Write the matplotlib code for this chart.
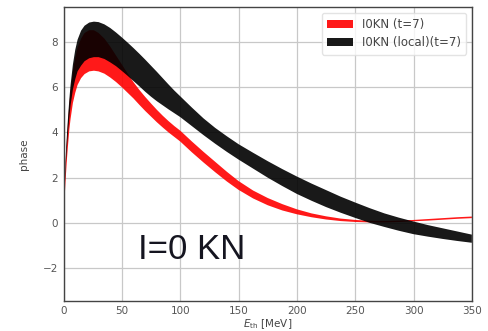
import matplotlib
matplotlib.use("Agg")
import matplotlib.pyplot as plt

# Threshold energy grid [MeV]
energy = [0, 0.5, 1, 2, 3, 4, 5, 6, 8, 10,
          12, 15, 18, 22, 26, 30, 35, 40, 45, 50,
          55, 60, 65, 70, 75, 80, 85, 90, 95, 100,
          110, 120, 130, 140, 150, 162.5, 175, 187.5, 200, 212.5,
          225, 237.5, 250, 262.5, 275, 287.5, 300, 312.5, 325, 337.5,
          350]

# I=0 KN phase shift band, t=7
red_lo = [0, 0.7, 1.2, 2.1, 2.9, 3.55, 4.15, 4.6, 5.3, 5.75,
          6.1, 6.4, 6.58, 6.7, 6.73, 6.7, 6.6, 6.43, 6.23, 6.0,
          5.75, 5.5, 5.22, 4.95, 4.7, 4.45, 4.22, 4.0, 3.8, 3.6,
          3.12, 2.67, 2.24, 1.83, 1.46, 1.08, 0.78, 0.55, 0.38, 0.25,
          0.15, 0.08, 0.04, 0.02, 0.02, 0.04, 0.07, 0.1, 0.14, 0.18,
          0.21]
red_hi = [0, 1.1, 1.8, 2.9, 3.8, 4.6, 5.3, 5.8, 6.7, 7.3,
          7.75, 8.15, 8.4, 8.52, 8.52, 8.4, 8.15, 7.8, 7.4, 7.0,
          6.6, 6.22, 5.88, 5.57, 5.28, 5.0, 4.74, 4.5, 4.28, 4.08,
          3.6, 3.14, 2.7, 2.26, 1.85, 1.43, 1.1, 0.83, 0.6, 0.42,
          0.29, 0.19, 0.13, 0.09, 0.08, 0.1, 0.13, 0.17, 0.21, 0.25,
          0.28]

# I=0 KN phase shift band, local potential, t=7
black_lo = [0, 1.0, 1.6, 2.6, 3.4, 4.1, 4.7, 5.2, 5.9, 6.35,
            6.7, 6.95, 7.15, 7.28, 7.33, 7.33, 7.25, 7.1, 6.93, 6.72,
            6.5, 6.27, 6.04, 5.8, 5.58, 5.38, 5.2, 5.02, 4.85, 4.68,
            4.28, 3.88, 3.5, 3.14, 2.8, 2.4, 2.0, 1.63, 1.28, 0.98,
            0.7, 0.45, 0.22, 0.0, -0.18, -0.35, -0.5, -0.61, -0.71, -0.8,
            -0.88]
black_hi = [0, 1.4, 2.0, 3.1, 4.0, 4.8, 5.5, 6.1, 7.0, 7.65,
            8.1, 8.5, 8.72, 8.86, 8.9, 8.88, 8.78, 8.62, 8.42, 8.2,
            7.97, 7.73, 7.48, 7.22, 6.95, 6.68, 6.4, 6.12, 5.85, 5.6,
            5.1, 4.62, 4.2, 3.83, 3.48, 3.1, 2.73, 2.38, 2.05, 1.74,
            1.45, 1.16, 0.9, 0.65, 0.42, 0.23, 0.06, -0.1, -0.24, -0.38,
            -0.52]

x_ticks = [0, 50, 100, 150, 200, 250, 300, 350]
y_ticks = [-2, 0, 2, 4, 6, 8]

fig = plt.figure(figsize=(4.89, 3.31), dpi=100)
ax = fig.add_axes([0.13, 0.091, 0.835, 0.888])

ax.fill_between(energy, red_lo, red_hi, color="red", alpha=0.9, lw=0.4,
                edgecolor="none", label="I0KN (t=7)")
ax.fill_between(energy, black_lo, black_hi, color="black", alpha=0.9, lw=0.4,
                edgecolor="none", label="I0KN (local)(t=7)")

ax.set_xlim(0, 350)
ax.set_ylim(-3.45, 9.55)
ax.set_xticks(x_ticks)
ax.set_yticks(y_ticks)
ax.grid(True, color="#c8c8c8", lw=0.9)
ax.set_axisbelow(True)
ax.tick_params(labelsize=7.5, colors="#555555", length=0, pad=4)
for s in ax.spines.values():
    s.set_color("#444444")
    s.set_linewidth(1.0)

ax.set_xlabel(r"$E_{\rm th}$ [MeV]", fontsize=7.5, color="#444444", labelpad=0.5)
ax.set_ylabel("phase", fontsize=7.5, color="#444444", labelpad=10)

ax.text(110, -1.18, "I=0 KN", fontsize=25, family="Liberation Sans",
        color="#151520", ha="center", va="center")

leg = ax.legend(loc="upper right", fontsize=8.5, frameon=True, framealpha=0.8,
                edgecolor="#dddddd", handlelength=2.2, borderpad=0.45,
                labelspacing=0.45, handletextpad=0.7)
for t in leg.get_texts():
    t.set_color("#444444")

fig.savefig("out.png", dpi=100)
